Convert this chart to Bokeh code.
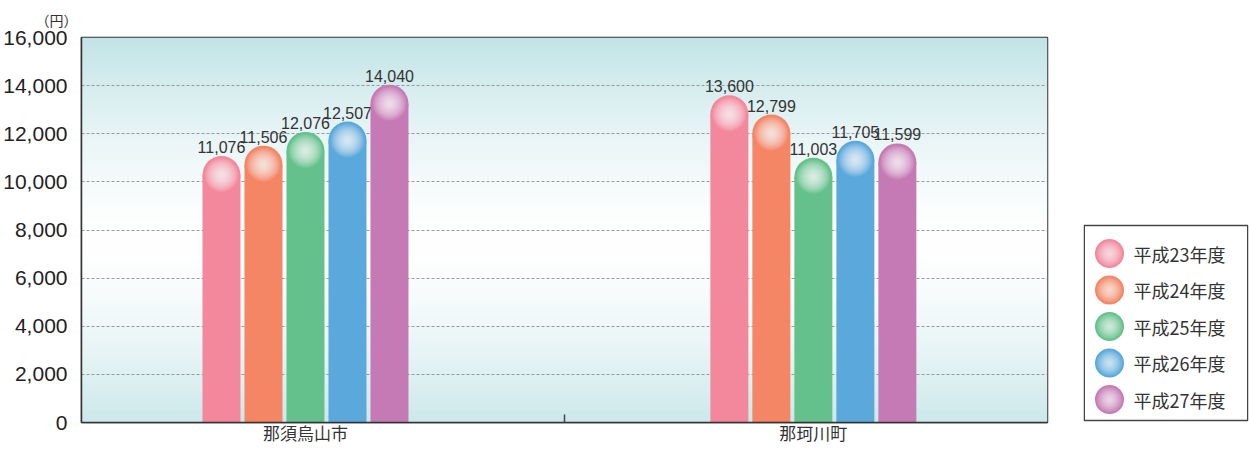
import numpy as np
from bokeh.plotting import figure
from bokeh.models import Range1d, FixedTicker, NumeralTickFormatter
from bokeh.layouts import row
from bokeh.core.properties import value
from bokeh.embed import file_html
from bokeh.resources import INLINE

# ---------------- data ----------------
categories = ["那須烏山市", "那珂川町"]
series = ["平成23年度", "平成24年度", "平成25年度", "平成26年度", "平成27年度"]
h23 = [11076, 13600]
h24 = [11506, 12799]
h25 = [12076, 11003]
h26 = [12507, 11705]
h27 = [14040, 11599]
series_values = [h23, h24, h25, h26, h27]
colors = ["#f3889d", "#f48565", "#64c18b", "#5aa8dc", "#c67ab5"]
y_ticks = [0, 2000, 4000, 6000, 8000, 10000, 12000, 14000, 16000]
unit_label = "（円）"

# ---------------- geometry / style ----------------
FRAME_W, FRAME_H = 966, 385
BT, BB = 37, 28
Y_MAX = 16000
X_START, X_END = -0.441, 1.461
px_x = FRAME_W / (X_END - X_START)
px_y = FRAME_H / Y_MAX
BAR_PX, PITCH_PX = 38, 42
bar_w = BAR_PX / px_x
pitch = PITCH_PX / px_x
r_data = (BAR_PX / 2) / px_y
cat_x = list(range(len(categories)))

p = figure(frame_width=FRAME_W, frame_height=FRAME_H,
           x_range=Range1d(X_START, X_END), y_range=Range1d(0, Y_MAX),
           min_border_left=72, min_border_right=36, min_border_top=BT, min_border_bottom=BB,
           toolbar_location=None, output_backend="svg",
           background_fill_color="white", border_fill_color="white")

p.title.text = unit_label
p.title.align = "left"
p.title.offset = -46
p.title.standoff = 15
p.title.text_line_height = 1.0
p.title.text_font = "Noto Sans CJK JP"
p.title.text_font_size = "14px"
p.title.text_font_style = "normal"
p.title.text_color = "#333333"

# gradient background (teal top/bottom, white middle)
rows_n = 200
yy = (np.arange(rows_n) + 0.5) / rows_n * Y_MAX
t = np.clip(np.abs(yy - 7500) / 8500, 0, 1) ** 1.5
teal = np.array([194, 228, 231])
white = np.array([255, 255, 255])
cols = (white[None, :] * (1 - t[:, None]) + teal[None, :] * t[:, None]).astype(np.uint32)
img = np.empty((rows_n, 2), dtype=np.uint32)
rgba = (255 << 24) | (cols[:, 2] << 16) | (cols[:, 1] << 8) | cols[:, 0]
img[:, 0] = rgba
img[:, 1] = rgba
p.image_rgba(image=[img], x=X_START, y=0, dw=X_END - X_START, dh=Y_MAX, level="image")

label_font = value("Liberation Sans")
for i, (name, vals, col) in enumerate(zip(series, series_values, colors)):
    off = (i - 2) * pitch
    xs = [c + off for c in cat_x]
    tops = [v - r_data for v in vals]
    p.vbar(x=xs, top=tops, bottom=0, width=bar_w, fill_color=col, line_color=None)
    p.scatter(x=xs, y=tops, size=BAR_PX, fill_color=col, line_color=None)
    for k in range(16):
        s = 34 - 2 * k
        p.scatter(x=xs, y=tops, size=s, fill_color="white", fill_alpha=0.085, line_color=None)
    p.text(x=xs, y=vals, text=[f"{v:,}" for v in vals], text_align="center",
           text_baseline="bottom", y_offset=-3, text_font=label_font,
           text_font_size="16px", text_color="#333333")

# axes
p.yaxis.ticker = FixedTicker(ticks=y_ticks)
p.yaxis.formatter = NumeralTickFormatter(format="0,0")
p.yaxis.major_label_text_font = "Liberation Sans"
p.yaxis.major_label_text_font_size = "21px"
p.yaxis.major_label_text_color = "#222222"
p.yaxis.major_tick_line_color = None
p.yaxis.minor_tick_line_color = None
p.yaxis.major_label_standoff = 8
p.yaxis.axis_line_color = "#333333"
p.yaxis.axis_line_width = 1.5

p.xaxis.ticker = FixedTicker(ticks=cat_x, minor_ticks=[0.51])
p.xaxis.major_label_overrides = {i: c for i, c in enumerate(categories)}
p.xaxis.major_label_text_font = "Noto Sans CJK JP"
p.xaxis.major_label_text_font_size = "17px"
p.xaxis.major_label_text_color = "#333333"
p.xaxis.major_tick_line_color = None
p.xaxis.major_tick_in = 0
p.xaxis.major_tick_out = 0
p.xaxis.minor_tick_in = 8
p.xaxis.minor_tick_out = 0
p.xaxis.minor_tick_line_color = "#444444"
p.xaxis.minor_tick_line_width = 1.5
p.xaxis.major_label_standoff = -3
p.xaxis.axis_line_color = "#333333"
p.xaxis.axis_line_width = 1.5

p.xgrid.grid_line_color = None
p.ygrid.ticker = FixedTicker(ticks=y_ticks)
p.ygrid.grid_line_color = "#9a9a9a"
p.ygrid.grid_line_dash = "3 2"
p.ygrid.grid_line_width = 1

p.outline_line_color = "#333333"
p.outline_line_width = 1.5

# legend (separate panel, same vertical frame as the chart)
LEG_W = 165
leg = figure(frame_width=LEG_W, frame_height=FRAME_H,
             x_range=Range1d(0, LEG_W), y_range=Range1d(FRAME_H, 0),
             min_border_left=0, min_border_right=2, min_border_top=BT, min_border_bottom=BB,
             toolbar_location=None, output_backend="svg",
             background_fill_color="white", border_fill_color="white")
leg.axis.visible = False
leg.grid.grid_line_color = None
leg.outline_line_color = None
BOX_TOP, BOX_BOT = 188, 383
leg.quad(left=0.75, right=LEG_W - 0.75, top=BOX_TOP, bottom=BOX_BOT, fill_color="white",
         line_color="#444444", line_width=1.5)
ly = [BOX_TOP + 28 + 36.5 * i for i in range(len(series))]
lx = [26] * len(series)
leg.scatter(x=lx, y=ly, size=29, fill_color=colors, line_color=None)
for k in range(14):
    s = 26 - 2 * k
    leg.scatter(x=lx, y=ly, size=s, fill_color="white", fill_alpha=0.09, line_color=None)
leg.text(x=[50] * len(series), y=ly, text=series, text_baseline="middle",
         text_font=value("Noto Sans CJK JP"), text_font_size="18px", text_color="#333333")

layout = row(p, leg, spacing=0)
open("out.html", "w").write(file_html(layout, INLINE))
